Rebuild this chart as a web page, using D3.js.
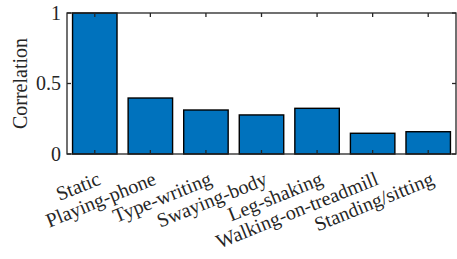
<!DOCTYPE html>
<html><head><meta charset="utf-8">
<script src="https://cdn.jsdelivr.net/npm/d3@7"></script>
<style>body{margin:0;background:#fff}</style>
</head><body>
<svg id="c" width="457" height="259"></svg>
<script>
const categories = ["Static","Playing-phone","Type-writing","Swaying-body","Leg-shaking","Walking-on-treadmill","Standing/sitting"];
const values = [1.0, 0.397, 0.312, 0.277, 0.324, 0.147, 0.158];
const yTicks = [0, 0.5, 1];
const yTickLabels = ["0","0.5","1"];

const svg = d3.select("#c");
const L = 67, R = 456, T = 13, B = 154;
const font = "'Liberation Serif', 'Times New Roman', Times, serif";
const fs = 20;
const x = d3.scaleLinear().domain([0.5, categories.length + 0.5]).range([L, R]);
const y = d3.scaleLinear().domain([0, 1]).range([B, T]);
const bw = (x(1) - x(0)) * 0.8;

svg.append("g").selectAll("rect").data(values).join("rect")
  .attr("x", (d,i) => x(i+1) - bw/2)
  .attr("y", d => y(d))
  .attr("width", bw)
  .attr("height", d => y(0) - y(d))
  .attr("fill", "#0072BD").attr("stroke", "#000").attr("stroke-width", 1.4);

svg.append("rect").attr("x", L).attr("y", T).attr("width", R-L).attr("height", B-T)
  .attr("fill", "none").attr("stroke", "#262626").attr("stroke-width", 1.3);

const tl = 4;
const g = svg.append("g").attr("stroke", "#262626").attr("stroke-width", 1.3);
categories.forEach((c,i) => {
  g.append("line").attr("x1", x(i+1)).attr("x2", x(i+1)).attr("y1", T).attr("y2", T+tl);
  g.append("line").attr("x1", x(i+1)).attr("x2", x(i+1)).attr("y1", B).attr("y2", B-tl);
});
yTicks.forEach(t => {
  g.append("line").attr("x1", L).attr("x2", L+tl).attr("y1", y(t)).attr("y2", y(t));
  g.append("line").attr("x1", R).attr("x2", R-tl).attr("y1", y(t)).attr("y2", y(t));
});

svg.append("g").selectAll("text").data(yTicks).join("text")
  .attr("x", L - 6).attr("y", d => y(d)).attr("dy", "0.33em")
  .attr("text-anchor", "end").attr("font-family", font).attr("font-size", fs).attr("fill", "#262626")
  .text((d,i) => yTickLabels[i]);

svg.append("text").attr("transform", `translate(27,${(T+B)/2}) rotate(-90)`)
  .attr("text-anchor", "middle").attr("font-family", font).attr("font-size", fs).attr("fill", "#262626")
  .text("Correlation");

svg.append("g").selectAll("text").data(categories).join("text")
  .attr("transform", (d,i) => `translate(${x(i+1)+7},${B+30}) rotate(-22)`)
  .attr("text-anchor", "end")
  .attr("font-family", font).attr("font-size", fs).attr("fill", "#262626")
  .text(d => d);
</script>
</body></html>
